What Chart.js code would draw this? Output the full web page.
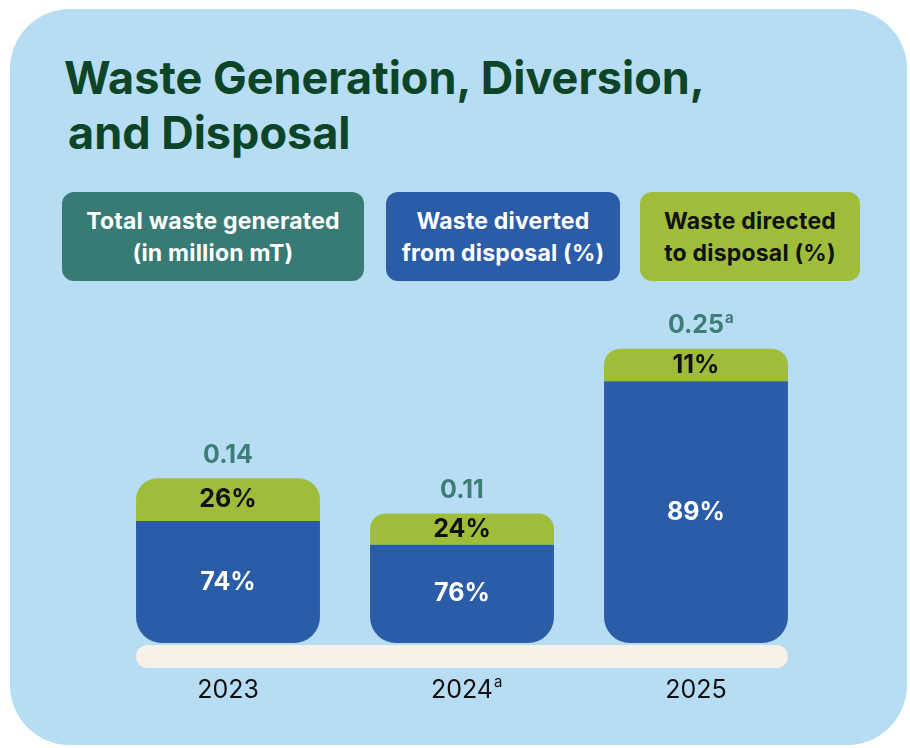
<!DOCTYPE html>
<html>
<head>
<meta charset="utf-8">
<script src="https://cdn.jsdelivr.net/npm/chart.js@4.4.1/dist/chart.umd.min.js"></script>
<style>
  body { margin: 0; background: #fff; font-family: Inter, 'Noto Sans', sans-serif; }
  .panel {
    position: absolute; left: 10px; top: 9px; width: 897px; height: 736px;
    background: #b6ddf3; border-radius: 60px;
  }
  .title {
    position: absolute; left: 64px; top: 50px; margin: 0;
    font-size: 45px; line-height: 55px; font-weight: 700; color: #0c4427;
  }
  .title span { display: block; }
  .title span + span { margin-left: 4px; }
  .key {
    position: absolute; top: 192px; height: 89px; border-radius: 12px;
    display: flex; align-items: center; justify-content: center; text-align: center;
    font-size: 23px; line-height: 32px; font-weight: 700; color: #fff;
    letter-spacing: 0.2px;
  }
  #chart { position: absolute; left: 0; top: 0; }
</style>
</head>
<body>
<div class="panel"></div>
<h1 class="title"><span>Waste Generation, Diversion,</span><span>and Disposal</span></h1>
<div class="key" style="left:62px;width:302px;background:#387a74">Total waste generated<br>(in million mT)</div>
<div class="key" style="left:386px;width:234px;background:#2b5ca8">Waste diverted<br>from disposal (%)</div>
<div class="key" style="left:640px;width:220px;background:#9fbd3a;color:#111">Waste directed<br>to disposal (%)</div>
<canvas id="chart" width="910" height="748"></canvas>
<script>
'use strict';

// data
const years = ['2023', '2024', '2025'];
const yearNotes = ['', 'a', ''];
const totalWaste = [0.14, 0.11, 0.25];
const totalNotes = ['', '', 'a'];
const divertedPct = [74, 76, 89];
const disposedPct = [26, 24, 11];

const divertedAmt = totalWaste.map((t, i) => t * divertedPct[i] / 100);
const disposedAmt = totalWaste.map((t, i) => t * disposedPct[i] / 100);

const FONT = 'Inter, "Noto Sans", sans-serif';

// text with an optional small raised note letter, centred on x
function noteText(ctx, txt, note, x, y, size, weight, color) {
  ctx.save();
  ctx.fillStyle = color;
  ctx.textBaseline = 'middle';
  ctx.textAlign = 'left';
  ctx.font = weight + ' ' + size + 'px ' + FONT;
  const w = ctx.measureText(txt).width;
  const left = x - w / 2;
  ctx.fillText(txt, left, y);
  if (note) {
    ctx.font = weight + ' ' + Math.round(size * 0.6) + 'px ' + FONT;
    ctx.fillText(note, left + w + 1, y - size * 0.3);
  }
  ctx.restore();
}

const floorPlugin = {
  id: 'floor',
  beforeDatasetsDraw(chart) {
    const ctx = chart.ctx;
    const bars = chart.getDatasetMeta(0).data;
    const first = bars[0], last = bars[bars.length - 1];
    const x0 = first.x - first.width / 2;
    const x1 = last.x + last.width / 2;
    const y0 = chart.chartArea.bottom + 2;
    ctx.save();
    ctx.fillStyle = '#f8f1e8';
    ctx.beginPath();
    ctx.roundRect(x0, y0, x1 - x0, 23, 11.5);
    ctx.fill();
    ctx.restore();
  }
};

const labelPlugin = {
  id: 'labels',
  afterDatasetsDraw(chart) {
    const ctx = chart.ctx;
    const blue = chart.getDatasetMeta(0).data;
    const green = chart.getDatasetMeta(1).data;
    blue.forEach((bar, i) => {
      const g = green[i];
      noteText(ctx, divertedPct[i] + '%', '', bar.x, (bar.y + bar.base) / 2, 25, '700', '#fff');
      noteText(ctx, disposedPct[i] + '%', '', g.x, (g.y + g.base) / 2, 25, '700', '#111');
      noteText(ctx, totalWaste[i].toFixed(2), totalNotes[i], g.x, g.y - 23, 25, '700', '#3d7c77');
      noteText(ctx, years[i], yearNotes[i], bar.x, chart.chartArea.bottom + 47, 25, '400', '#111');
    });
  }
};

new Chart(document.getElementById('chart'), {
  type: 'bar',
  data: {
    labels: years,
    datasets: [{
      label: 'Waste diverted from disposal',
      data: divertedAmt,
      backgroundColor: '#2b5ca8',
      borderSkipped: false,
      borderRadius: { topLeft: 0, topRight: 0, bottomLeft: 26, bottomRight: 26 }
    }, {
      label: 'Waste directed to disposal',
      data: disposedAmt,
      backgroundColor: '#9fbd3a',
      borderSkipped: false,
      borderRadius: { topLeft: 26, topRight: 26, bottomLeft: 0, bottomRight: 0 }
    }]
  },
  options: {
    responsive: false,
    animation: false,
    layout: { padding: { top: 290, bottom: 105, left: 111, right: 97 } },
    datasets: { bar: { categoryPercentage: 1, barPercentage: 0.786 } },
    scales: {
      x: { stacked: true, display: false },
      y: { stacked: true, display: false, min: 0, max: 0.3 }
    },
    plugins: { legend: { display: false }, tooltip: { enabled: false } }
  },
  plugins: [floorPlugin, labelPlugin]
});
</script>
</body>
</html>
